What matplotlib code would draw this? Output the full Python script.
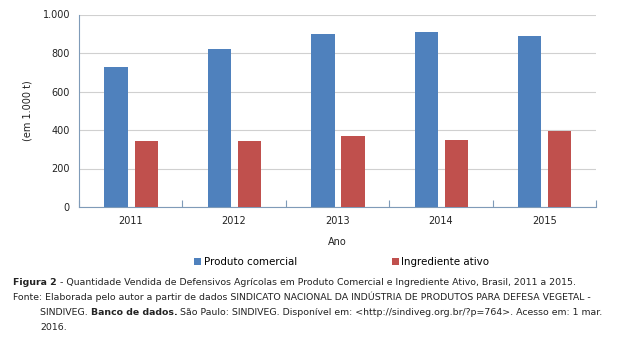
import numpy as np
import matplotlib
matplotlib.use('Agg')
import matplotlib.pyplot as plt

anos = ['2011', '2012', '2013', '2014', '2015']
produto_comercial = [729, 821, 900, 911, 887]
ingrediente_ativo = [341, 343, 367, 350, 393]

azul = '#4F81BD'
vermelho = '#C0504D'

plt.rcParams['font.family'] = 'DejaVu Sans'

fig = plt.figure(figsize=(6.19, 3.42), dpi=100)
ax = fig.add_axes([79/619, 1 - 207/342, 517/619, 192.5/342])

x = np.arange(len(anos))
w = 0.226
ax.bar(x - 0.142, produto_comercial, w, color=azul, label='Produto comercial', zorder=3)
ax.bar(x + 0.15, ingrediente_ativo, w, color=vermelho, label='Ingrediente ativo', zorder=3)

ax.set_xlim(-0.5, len(anos) - 0.5)
ax.set_ylim(0, 1000)
ax.set_yticks([0, 200, 400, 600, 800, 1000])
ax.set_yticklabels(['0', '200', '400', '600', '800', '1.000'], fontsize=7, color='#222222')
ax.set_xticks(x)
ax.set_xticklabels(anos, fontsize=7, color='#222222')
ax.tick_params(axis='y', length=0, pad=6.5)
ax.tick_params(axis='x', length=0, pad=6.5)
# marcas entre as categorias (para dentro)
ax.set_xticks(np.arange(-0.5, len(anos)), minor=True)
ax.tick_params(axis='x', which='minor', direction='in', length=5, color='#7f9bb8', width=0.8)
ax.yaxis.grid(True, color='#d0d0d0', linewidth=0.8, zorder=0)
for s in ['top', 'right']:
    ax.spines[s].set_visible(False)
ax.spines['left'].set_color('#7f9bb8')
ax.spines['bottom'].set_color('#7f9bb8')
ax.spines['left'].set_linewidth(0.8)
ax.spines['bottom'].set_linewidth(0.8)

ax.set_ylabel('(em 1.000 t)', fontsize=7, color='#222222', labelpad=7)
ax.set_xlabel('Ano', fontsize=7, color='#222222', labelpad=8)

leg = fig.legend(loc='center', bbox_to_anchor=(0.552, 1 - 262/342), ncol=2, frameon=False,
                 fontsize=7.4, handlelength=0.7, handleheight=0.7, handletextpad=0.25,
                 columnspacing=9.2)

# legenda da figura (texto com partes em negrito)
fs = 6.75
fig.canvas.draw()
r = fig.canvas.get_renderer()


def linha(partes, x0, y0):
    xx = x0
    for txt, peso in partes:
        t = fig.text(xx, y0, txt, fontsize=fs, fontweight=peso, va='baseline', ha='left', color='#222222')
        bb = t.get_window_extent(renderer=r)
        xx = bb.x1 / fig.bbox.width


linha([('Figura 2', 'bold'), (' - Quantidade Vendida de Defensivos Agrícolas em Produto Comercial e Ingrediente Ativo, Brasil, 2011 a 2015.', 'normal')], 13/619, 1 - 285/342)
linha([('Fonte: Elaborada pelo autor a partir de dados SINDICATO NACIONAL DA INDÚSTRIA DE PRODUTOS PARA DEFESA VEGETAL -', 'normal')], 13/619, 1 - 300/342)
linha([('SINDIVEG. ', 'normal'), ('Banco de dados.', 'bold'), (' São Paulo: SINDIVEG. Disponível em: <http://sindiveg.org.br/?p=764>. Acesso em: 1 mar.', 'normal')], 40/619, 1 - 315/342)
linha([('2016.', 'normal')], 40/619, 1 - 330/342)

fig.savefig('out.png', dpi=100)
